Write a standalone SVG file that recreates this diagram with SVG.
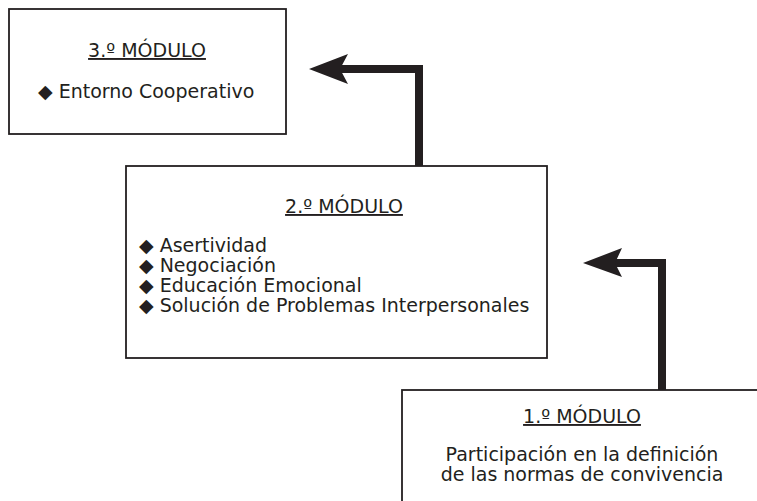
<svg xmlns="http://www.w3.org/2000/svg" width="757" height="501" viewBox="0 0 757 501">
<style>
.box{fill:#fff;stroke:#231f20;stroke-width:1.8}
.t{font-family:"DejaVu Sans",sans-serif;font-size:19px;fill:#231f20}
.h{text-anchor:middle;text-decoration:underline}
.c{text-anchor:middle}
.conn{fill:none;stroke:#231f20;stroke-width:8;stroke-linejoin:miter}
.head{fill:#231f20}
</style>
<rect width="757" height="501" fill="#fff"/>
<g id="connectors">
<polyline class="conn" points="419,166 419,69 338,69"/>
<polygon class="head" points="309,69 348,54 340,69 348,84"/>
<polyline class="conn" points="662,390 662,263 613,263"/>
<polygon class="head" points="583,263 622,248 615,263 622,277"/>
</g>
<g id="modulo3">
<rect class="box" x="9" y="9" width="277" height="125"/>
<text class="t h" x="147" y="57">3.º MÓDULO</text>
<text class="t" x="38" y="98">◆ Entorno Cooperativo</text>
</g>
<g id="modulo2">
<rect class="box" x="126" y="166" width="421" height="192"/>
<text class="t h" x="344" y="213">2.º MÓDULO</text>
<text class="t" x="139" y="252">◆ Asertividad</text>
<text class="t" x="139" y="272">◆ Negociación</text>
<text class="t" x="139" y="292">◆ Educación Emocional</text>
<text class="t" x="139" y="312">◆ Solución de Problemas Interpersonales</text>
</g>
<g id="modulo1">
<rect class="box" x="402" y="390" width="400" height="200"/>
<text class="t h" x="582" y="423">1.º MÓDULO</text>
<text class="t c" x="582" y="461">Participación en la definición</text>
<text class="t c" x="582" y="481">de las normas de convivencia</text>
</g>
</svg>
